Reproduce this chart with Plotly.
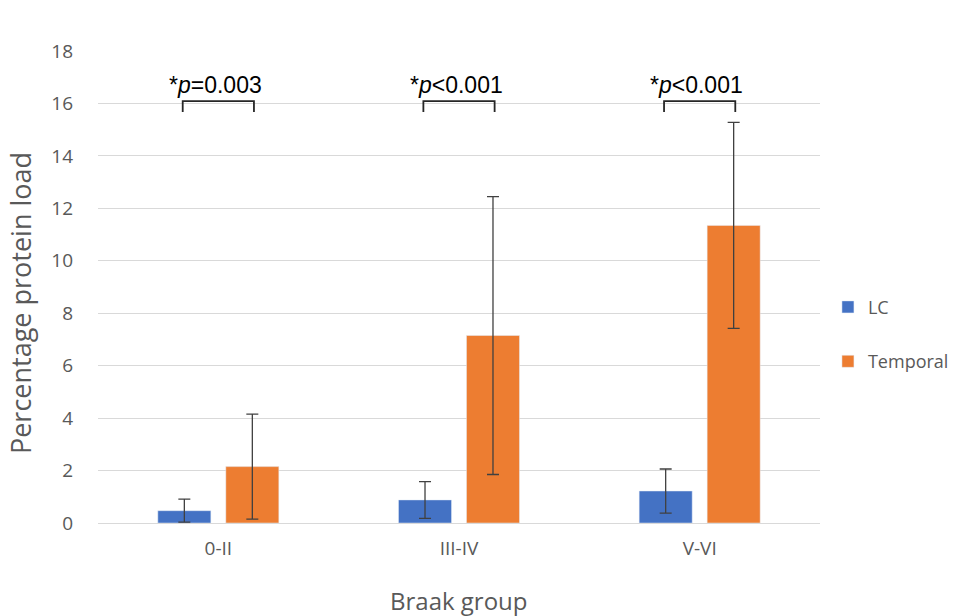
import plotly.graph_objects as go

categories = ["0-II", "III-IV", "V-VI"]
lc_values = [0.47, 0.88, 1.22]
lc_err = [0.44, 0.70, 0.84]
temporal_values = [2.15, 7.15, 11.35]
temporal_err = [2.0, 5.3, 3.93]
p_labels = ["*<i>p</i>=0.003", "*<i>p</i><0.001", "*<i>p</i><0.001"]

FONT = "Open Sans"
GREY = "#595959"

fig = go.Figure()
fig.add_trace(go.Bar(
    x=categories, y=lc_values, name="LC", marker_color="#4472C4", legendgroup="a",
    error_y=dict(type="data", array=lc_err, color="#404040", thickness=1.3, width=6),
))
fig.add_trace(go.Bar(
    x=categories, y=temporal_values, name="Temporal", marker_color="#ED7D31", legendgroup="b",
    error_y=dict(type="data", array=temporal_err, color="#404040", thickness=1.3, width=6),
))

bracket_top = 16.09
bracket_leg = 15.67
half = 0.148
for i, lab in enumerate(p_labels):
    fig.add_shape(type="path", xref="x", yref="y",
                  path=f"M {i-half} {bracket_leg} L {i-half} {bracket_top} L {i+half} {bracket_top} L {i+half} {bracket_leg}",
                  line=dict(color="#262626", width=1.8))
    fig.add_annotation(x=i, y=bracket_top, xref="x", yref="y", text=lab, showarrow=False,
                       yanchor="bottom", yshift=1, xshift=-3,
                       font=dict(family="Liberation Sans", size=23, color="#000000"))

# axis titles as annotations for exact placement
fig.add_annotation(x=0.5, y=0, xref="paper", yref="paper", text="Braak group", showarrow=False,
                   yanchor="middle", yshift=-77, font=dict(family=FONT, size=24, color=GREY))
fig.add_annotation(x=0, y=0.466, xref="paper", yref="paper", text="Percentage protein load",
                   showarrow=False, textangle=-90, xanchor="center", xshift=-78,
                   font=dict(family=FONT, size=27, color=GREY))

fig.update_layout(
    width=977, height=616,
    margin=dict(l=98, r=157, t=51, b=93, autoexpand=False),
    paper_bgcolor="white", plot_bgcolor="white",
    barmode="group", bargap=0.435, bargroupgap=0.22,
    font=dict(family=FONT, size=18, color=GREY),
    legend=dict(x=1.011, y=0.40, xanchor="left", yanchor="middle",
                font=dict(family=FONT, size=18, color=GREY), tracegroupgap=28,
                traceorder="grouped"),
    showlegend=True,
)
fig.update_xaxes(
    showline=True, linecolor="#d9d9d9", linewidth=1, ticks="", automargin=False,
    tickfont=dict(family=FONT, size=19, color=GREY), ticklabelstandoff=8,
)
fig.update_yaxes(
    range=[0, 18], dtick=2, showgrid=True, gridcolor="#d9d9d9", gridwidth=1,
    zeroline=False, showline=False, ticks="", automargin=False,
    tickfont=dict(family=FONT, size=19, color=GREY), ticklabelstandoff=24,
)

fig.write_html("out.html", config={"displayModeBar": False},
               post_script="document.body.style.margin='0';document.body.style.overflow='hidden';")
